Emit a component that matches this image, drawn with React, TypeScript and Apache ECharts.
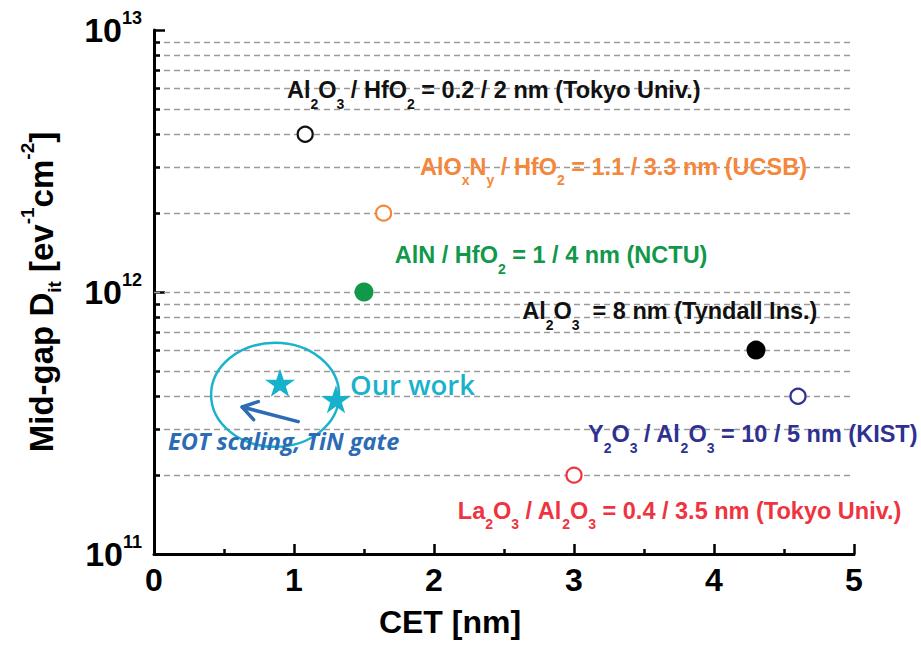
import React, { useEffect, useRef } from "react";
import * as echarts from "echarts";

// Axis ranges
const xMin = 0;
const xMax = 5;
const yMin = 1e11;
const yMax = 1e13;

// CET [nm] and mid-gap Dit [eV^-1 cm^-2] per gate stack
const tokyoAlHf = [[1.08, 4e12]];
const ucsbAlonHf = [[1.64, 2e12]];
const nctuAlnHf = [[1.5, 1e12]];
const tyndallAl = [[4.3, 6e11]];
const kistYAl = [[4.6, 4e11]];
const tokyoLaAl = [[3.0, 2e11]];
const ourWork = [[0.9, 4.5e11], [1.3, 3.9e11]];

// Decade gridline drawn between the axis ends
const decadeLines = [1e12];

// Annotation texts ("_" marks a one-character subscript)
const annotationTexts = [
  "Al_2O_3 / HfO_2 = 0.2 / 2 nm (Tokyo Univ.)",
  "AlO_xN_y / HfO_2 = 1.1 / 3.3 nm (UCSB)",
  "AlN / HfO_2 = 1 / 4 nm (NCTU)",
  "Al_2O_3  = 8 nm (Tyndall Ins.)",
  "Y_2O_3 / Al_2O_3 = 10 / 5 nm (KIST)",
  "La_2O_3 / Al_2O_3 = 0.4 / 3.5 nm (Tokyo Univ.)",
  "Our work",
  "EOT scaling, TiN gate",
];
// Left-middle anchor of each annotation, in data units
const annotationAnchors = [
  [0.95, 5.9e12],
  [1.9, 3.0e12],
  [1.72, 1.38e12],
  [2.63, 8.46e11],
  [3.1, 2.87e11],
  [2.17, 1.46e11],
  [1.4, 4.45e11],
  [0.1, 2.7e11],
];
const annotationColors = [
  "#111111",
  "#f5873a",
  "#11984a",
  "#111111",
  "#2e3190",
  "#ee3440",
  "#19b2cb",
  "#2c6cb4",
];

// "Our work" ring and the EOT-scaling arrow (data units)
const ringCenter = [0.865, 4.05e11];
const arrowFrom = [1.03, 3.2e11];
const arrowTo = [0.63, 3.64e11];

const SANS = "'Liberation Sans', Arial, Helvetica, sans-serif";
const HUMANIST = "'Open Sans', Lato, sans-serif";
const GRID_LINE = { color: "#9a9a9a", width: 1.3, type: [6, 4] };
const STAR =
  "path://M50,0 L61.8,35.1 L98.1,35.1 L68.7,56.7 L79.4,91.2 L50,69.9 L20.6,91.2 L31.3,56.7 L1.9,35.1 L38.2,35.1 Z";

function toRich(text: string, i: number): string {
  return text
    .split(/_(.)/)
    .map((part, k) => (part === "" ? "" : k % 2 ? `{s${i}|${part}}` : `{t${i}|${part}}`))
    .join("");
}

function buildRich() {
  const rich: Record<string, any> = {};
  annotationTexts.forEach((_, i) => {
    const color = annotationColors[i];
    let main: any = { fontFamily: SANS, fontWeight: "bold", fontSize: 23.5, lineHeight: 41, color };
    if (i === 6) main = { fontFamily: HUMANIST, fontWeight: 600, fontSize: 27.5, lineHeight: 34, color };
    if (i === 7)
      main = { fontFamily: HUMANIST, fontWeight: "bold", fontStyle: "italic", fontSize: 23.5, lineHeight: 30, color };
    rich[`t${i}`] = main;
    rich[`s${i}`] = {
      fontFamily: SANS,
      fontWeight: "bold",
      fontSize: 14,
      lineHeight: 12,
      verticalAlign: "bottom",
      color,
    };
  });
  return rich;
}

function openCircle(name: string, data: number[][], color: string) {
  return {
    type: "scatter",
    name,
    data,
    symbol: "circle",
    symbolSize: 15,
    itemStyle: { color: "#ffffff", borderColor: color, borderWidth: 2.2, opacity: 1 },
    z: 3,
  };
}

function filledCircle(name: string, data: number[][], color: string) {
  return {
    type: "scatter",
    name,
    data,
    symbol: "circle",
    symbolSize: 19,
    itemStyle: { color, opacity: 1 },
    z: 3,
  };
}

export default function App() {
  const ref = useRef<HTMLDivElement>(null);

  useEffect(() => {
    document.body.style.margin = "0";
    if (!ref.current) return;
    const chart = echarts.init(ref.current, null, { renderer: "svg" });

    const option: any = {
      animation: false,
      backgroundColor: "#ffffff",
      grid: { left: 154, right: 67, top: 30, bottom: 107, containLabel: false },
      xAxis: {
        type: "value",
        min: xMin,
        max: xMax,
        interval: 1,
        axisLine: { show: true, onZero: false, lineStyle: { color: "#000", width: 3 } },
        axisTick: { show: true, inside: true, length: 10, lineStyle: { color: "#000", width: 2.5 } },
        minorTick: { show: true, splitNumber: 2, length: 5, lineStyle: { color: "#000", width: 2.5 } },
        splitLine: { show: false },
        axisLabel: { fontFamily: SANS, fontWeight: "bold", fontSize: 32, color: "#000", margin: 10 },
        name: "CET [nm]",
        nameLocation: "middle",
        nameGap: 52,
        nameTextStyle: {
          fontFamily: SANS,
          fontWeight: "bold",
          fontSize: 32,
          color: "#000",
          padding: [0, 108, 0, 0],
        },
      },
      yAxis: {
        type: "log",
        logBase: 10,
        min: yMin,
        max: yMax,
        axisLine: { show: true, onZero: false, lineStyle: { color: "#000", width: 3 } },
        axisTick: { show: true, inside: true, length: 11, lineStyle: { color: "#000", width: 2.5 } },
        minorTick: { show: true, splitNumber: 9, length: 6, lineStyle: { color: "#000", width: 2.5 } },
        splitLine: { show: false },
        minorSplitLine: { show: true, lineStyle: GRID_LINE },
        axisLabel: {
          margin: 12,
          formatter: (v: number) => `{b|10}{s|${Math.round(Math.log10(v))}}`,
          rich: {
            b: { fontFamily: SANS, fontWeight: "bold", fontSize: 34, lineHeight: 42, color: "#000" },
            s: {
              fontFamily: SANS,
              fontWeight: "bold",
              fontSize: 18,
              lineHeight: 17,
              verticalAlign: "top",
              color: "#000",
            },
          },
        },
        name: "{t|Mid-gap D}{sub|it}{t| [ev}{sup|-1}{t|cm}{sup|-2}{t|]}",
        nameLocation: "middle",
        nameRotate: 90,
        nameGap: 90,
        nameTextStyle: {
          color: "#000",
          rich: {
            t: { fontFamily: SANS, fontWeight: "bold", fontSize: 33, lineHeight: 46, color: "#000" },
            sub: {
              fontFamily: SANS,
              fontWeight: "bold",
              fontSize: 19,
              lineHeight: 21,
              verticalAlign: "bottom",
              color: "#000",
            },
            sup: {
              fontFamily: SANS,
              fontWeight: "bold",
              fontSize: 19,
              lineHeight: 18,
              verticalAlign: "top",
              color: "#000",
            },
          },
        },
      },
      series: [
        openCircle("Al2O3/HfO2 Tokyo", tokyoAlHf, "#111111"),
        openCircle("AlON/HfO2 UCSB", ucsbAlonHf, "#f5873a"),
        {
          ...filledCircle("AlN/HfO2 NCTU", nctuAlnHf, "#11984a"),
          markLine: {
            silent: true,
            symbol: ["none", "none"],
            label: { show: false },
            lineStyle: GRID_LINE,
            emphasis: { disabled: true },
            data: decadeLines.map((v) => ({ yAxis: v })),
            z: 1,
          },
        },
        filledCircle("Al2O3 Tyndall", tyndallAl, "#000000"),
        openCircle("Y2O3/Al2O3 KIST", kistYAl, "#2e3190"),
        openCircle("La2O3/Al2O3 Tokyo", tokyoLaAl, "#ee3440"),
        {
          type: "scatter",
          name: "Our work",
          data: ourWork,
          symbol: STAR,
          symbolSize: [30, 28],
          itemStyle: { color: "#17b1cb", opacity: 1 },
          z: 4,
        },
        {
          type: "scatter",
          name: "notes",
          silent: true,
          clip: false,
          symbol: "circle",
          symbolSize: 0,
          itemStyle: { color: "rgba(0,0,0,0)", opacity: 1 },
          data: annotationAnchors.map((p) => ({ value: p })),
          label: {
            show: true,
            opacity: 1,
            position: "right",
            distance: 0,
            formatter: (p: any) => toRich(annotationTexts[p.dataIndex], p.dataIndex),
            rich: buildRich(),
          },
          emphasis: { disabled: true },
          z: 5,
        },
      ],
    };

    chart.setOption(option);

    const c = chart.convertToPixel({ gridIndex: 0 }, ringCenter) as number[];
    const tail = chart.convertToPixel({ gridIndex: 0 }, arrowFrom) as number[];
    const tip = chart.convertToPixel({ gridIndex: 0 }, arrowTo) as number[];
    const back = Math.atan2(tail[1] - tip[1], tail[0] - tip[0]);
    const barb = 17;
    const spread = 0.58;
    const head = [
      [tip[0] + barb * Math.cos(back + spread), tip[1] + barb * Math.sin(back + spread)],
      [tip[0], tip[1]],
      [tip[0] + barb * Math.cos(back - spread), tip[1] + barb * Math.sin(back - spread)],
    ];

    chart.setOption({
      graphic: [
        {
          type: "ellipse",
          silent: true,
          z: 2,
          shape: { cx: c[0], cy: c[1], rx: 64, ry: 52 },
          style: { fill: "none", stroke: "#1bb3cc", lineWidth: 2.5 },
        },
        {
          type: "line",
          silent: true,
          z: 6,
          shape: { x1: tail[0], y1: tail[1], x2: tip[0], y2: tip[1] },
          style: { stroke: "#2d6bb4", lineWidth: 3.5, lineCap: "round" },
        },
        {
          type: "polyline",
          silent: true,
          z: 6,
          shape: { points: head },
          style: { fill: "none", stroke: "#2d6bb4", lineWidth: 3.5, lineCap: "round", lineJoin: "round" },
        },
      ],
    });

    return () => chart.dispose();
  }, []);

  return (
    <div
      ref={ref}
      style={{ position: "absolute", left: 0, top: 0, width: 921, height: 661, background: "#fff" }}
    />
  );
}
